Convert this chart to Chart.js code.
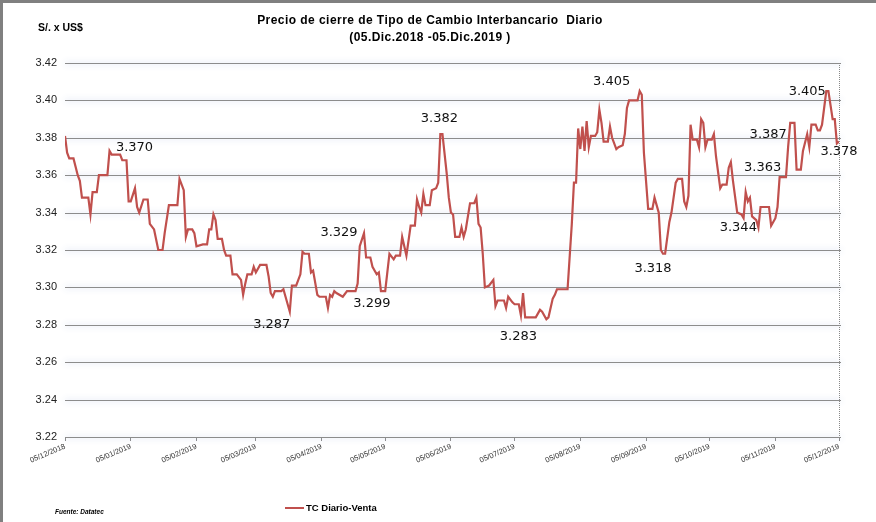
<!DOCTYPE html>
<html>
<head>
<meta charset="utf-8">
<script src="https://cdn.jsdelivr.net/npm/chart.js@4"></script>
<style>
  html, body { margin: 0; padding: 0; background: #fff; }
  #wrap { position: relative; width: 876px; height: 522px; overflow: hidden; }
  #frame { position: absolute; left: 0; top: 0; width: 876px; height: 522px; box-sizing: border-box;
           border-top: 3px solid #808080; border-left: 3px solid #808080; pointer-events: none; }
  .txt { position: absolute; font-family: "Liberation Sans", Arial, sans-serif; color: #000; white-space: nowrap; }
  #unit { left: 38px; top: 21px; font-size: 10.5px; font-weight: bold; }
  #title { left: 230px; width: 400px; top: 12px; font-size: 12px; font-weight: bold; text-align: center;
           line-height: 17px; letter-spacing: 0.45px; }
  #legend { left: 285px; top: 502px; font-size: 9.5px; font-weight: bold; }
  #legend span { display: inline-block; width: 19px; height: 2px; background: #c0504d; vertical-align: middle; margin-right: 2px; }
  #source { left: 55px; top: 508px; font-size: 6.5px; font-weight: bold; font-style: italic; }
</style>
</head>
<body>
<div id="wrap">
  <canvas id="tcChart" width="876" height="522"></canvas>
  <div class="txt" id="unit">S/. x US$</div>
  <div class="txt" id="title">Precio de cierre de Tipo de Cambio Interbancario&nbsp; Diario<br>(05.Dic.2018 -05.Dic.2019 )</div>
  <div class="txt" id="legend"><span></span>TC Diario-Venta</div>
  <div class="txt" id="source">Fuente: Datatec</div>
  <div id="frame"></div>
</div>
<script>
// days counted from 05/12/2018
const days = [0,1,2,4,6,7,8,11,12,13,15,16,20,21,22,26,27,29,30,31,33,34,35,37,39,40,42,44,46,47,49,51,53,54,56,57,58,60,61,62,65,67,68,69,70,71,72,74,75,76,78,79,81,83,84,85,86,88,89,90,92,95,96,97,98,99,102,103,104,106,107,109,111,112,113,115,116,117,119,120,123,124,125,126,127,128,131,133,137,138,139,141,142,144,145,147,148,149,151,152,153,155,156,158,159,160,161,163,165,166,167,168,169,170,172,173,175,176,177,178,180,181,182,183,184,186,187,188,189,191,193,194,195,196,197,198,200,202,203,204,207,208,209,211,212,214,215,216,217,218,222,224,225,227,228,230,231,232,233,237,239,240,241,242,243,244,245,246,247,248,250,251,252,253,254,256,257,258,260,261,263,264,265,266,270,271,272,273,275,277,278,279,280,281,282,283,285,286,288,289,291,292,293,294,295,296,298,299,300,301,302,303,305,306,307,309,310,312,313,314,315,317,319,320,321,322,323,324,326,327,328,332,333,335,336,337,340,341,342,344,345,347,348,350,351,352,354,355,356,357,359,360,362,363,364,365];
const tcVenta = [3.381,3.372,3.369,3.369,3.360,3.357,3.348,3.348,3.339,3.351,3.351,3.360,3.360,3.373,3.371,3.371,3.368,3.368,3.346,3.346,3.353,3.343,3.340,3.347,3.347,3.334,3.331,3.320,3.320,3.329,3.344,3.344,3.344,3.358,3.352,3.327,3.331,3.331,3.329,3.322,3.323,3.323,3.331,3.331,3.339,3.336,3.326,3.326,3.320,3.317,3.317,3.307,3.307,3.304,3.296,3.302,3.307,3.307,3.311,3.308,3.312,3.312,3.306,3.297,3.295,3.298,3.298,3.299,3.295,3.287,3.301,3.301,3.307,3.319,3.318,3.318,3.308,3.309,3.296,3.295,3.295,3.289,3.296,3.295,3.298,3.297,3.295,3.298,3.298,3.302,3.322,3.329,3.316,3.316,3.311,3.307,3.308,3.298,3.298,3.308,3.318,3.315,3.317,3.317,3.327,3.322,3.317,3.333,3.333,3.347,3.343,3.340,3.350,3.344,3.344,3.352,3.353,3.356,3.382,3.382,3.361,3.348,3.340,3.339,3.327,3.327,3.332,3.327,3.331,3.345,3.345,3.348,3.334,3.332,3.318,3.300,3.301,3.304,3.290,3.293,3.293,3.289,3.295,3.292,3.291,3.291,3.285,3.297,3.284,3.284,3.284,3.288,3.287,3.283,3.284,3.294,3.296,3.299,3.299,3.299,3.334,3.356,3.356,3.385,3.374,3.386,3.373,3.389,3.375,3.381,3.381,3.383,3.395,3.388,3.378,3.378,3.386,3.380,3.374,3.375,3.376,3.382,3.396,3.400,3.400,3.405,3.403,3.372,3.342,3.342,3.348,3.344,3.340,3.320,3.318,3.318,3.335,3.340,3.356,3.358,3.358,3.346,3.343,3.349,3.387,3.379,3.379,3.375,3.390,3.388,3.375,3.379,3.379,3.382,3.370,3.353,3.355,3.355,3.364,3.367,3.357,3.340,3.339,3.337,3.351,3.346,3.348,3.338,3.336,3.332,3.343,3.343,3.333,3.337,3.343,3.359,3.359,3.375,3.388,3.388,3.363,3.363,3.373,3.382,3.375,3.387,3.387,3.384,3.384,3.387,3.405,3.405,3.390,3.390,3.377,3.378];

const tickDays = [0,31,62,90,121,151,182,212,243,274,304,335,365];
const tickLabels = ['05/12/2018','05/01/2019','05/02/2019','05/03/2019','05/04/2019','05/05/2019','05/06/2019',
                    '05/07/2019','05/08/2019','05/09/2019','05/10/2019','05/11/2019','05/12/2019'];
const yTicks = [3.22,3.24,3.26,3.28,3.30,3.32,3.34,3.36,3.38,3.40,3.42];

// value labels: text and the day of the point they belong to
const noteTexts = ['3.370','3.287','3.329','3.299','3.382','3.283','3.405','3.318','3.344','3.363','3.387','3.405','3.378'];
const noteDays  = [21,106,141,149,177,227,271,282,326,345,342,359,365];
// where each label sits relative to its point (px)
const noteShift = [[25,-3],[-18,13],[-25,-1],[-9,12],[-1,-15],[-28,17],[-28,-9],[-10,15],[-18,8],[-34,-2],[-22,12],[-19,1],[0,10]];

const points = days.map((d, i) => ({ x: d, y: tcVenta[i] }));

const gridGlow = {
  id: 'gridGlow',
  beforeDatasetsDraw(chart) {
    const { ctx, chartArea: a, scales: { y } } = chart;
    ctx.save();
    yTicks.forEach(v => {
      const py = Math.round(y.getPixelForValue(v)) + 0.5;
      // soft halo around each gridline
      ctx.shadowColor = 'rgba(170,185,225,0.9)';
      ctx.shadowBlur = 6;
      ctx.strokeStyle = '#8c8c8c';
      ctx.lineWidth = 1;
      ctx.beginPath(); ctx.moveTo(a.left, py); ctx.lineTo(a.right + 2, py); ctx.stroke();
    });
    ctx.shadowBlur = 0;
    ctx.shadowColor = 'transparent';
    ctx.setLineDash([1, 1]);
    ctx.strokeStyle = '#888';
    ctx.beginPath(); ctx.moveTo(a.right + 0.5, a.top); ctx.lineTo(a.right + 0.5, a.bottom); ctx.stroke();
    ctx.restore();
  },
  afterDatasetsDraw(chart) {
    const { ctx, scales: { x, y } } = chart;
    ctx.save();
    ctx.font = '13px "DejaVu Sans", sans-serif';
    ctx.fillStyle = '#111';
    ctx.textAlign = 'center';
    ctx.textBaseline = 'middle';
    noteTexts.forEach((t, i) => {
      const k = days.indexOf(noteDays[i]);
      const px = x.getPixelForValue(days[k]) + noteShift[i][0];
      const py = y.getPixelForValue(tcVenta[k]) + noteShift[i][1];
      ctx.fillText(t, px, py);
    });
    ctx.restore();
  }
};

new Chart(document.getElementById('tcChart'), {
  type: 'line',
  data: {
    datasets: [{
      label: 'TC Diario-Venta',
      data: points,
      borderColor: '#c0504d',
      borderWidth: 2.2,
      pointRadius: 0,
      tension: 0,
      fill: false
    }]
  },
  options: {
    responsive: false,
    animation: false,
    layout: { padding: { left: 0, top: 63, right: 37, bottom: 55 } },
    plugins: { legend: { display: false }, title: { display: false }, tooltip: { enabled: false } },
    scales: {
      x: {
        type: 'linear',
        min: 0,
        max: 365,
        afterBuildTicks: s => { s.ticks = tickDays.map(v => ({ value: v })); },
        afterFit: s => { s.height = 30; },
        grid: { drawOnChartArea: false, drawTicks: true, tickLength: 4, color: '#888' },
        border: { display: true, color: '#888' },
        ticks: {
          autoSkip: false,
          minRotation: 23,
          maxRotation: 23,
          padding: 1,
          color: '#333',
          font: { family: '"Liberation Sans", Arial, sans-serif', size: 7.5 },
          callback: (v, i) => tickLabels[i]
        }
      },
      y: {
        min: 3.22,
        max: 3.42,
        afterBuildTicks: s => { s.ticks = yTicks.map(v => ({ value: v })); },
        afterFit: s => { s.width = 65; },
        grid: { display: false, drawTicks: false },
        border: { display: false },
        ticks: {
          padding: 8,
          color: '#222',
          font: { family: '"Liberation Sans", Arial, sans-serif', size: 11 },
          callback: v => v.toFixed(2)
        }
      }
    }
  },
  plugins: [gridGlow]
});
</script>
</body>
</html>
